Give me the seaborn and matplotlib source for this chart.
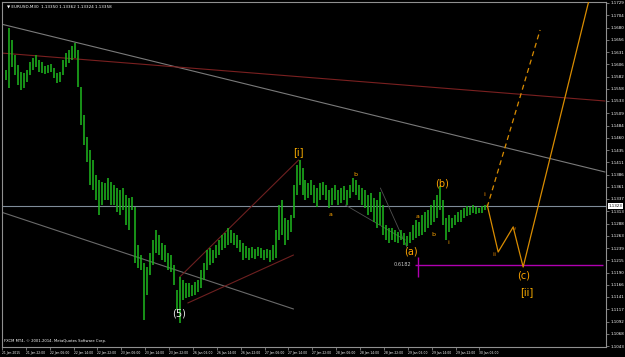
import numpy as np
import pandas as pd
import matplotlib
matplotlib.use("Agg")
import matplotlib.pyplot as plt
import matplotlib.transforms as mtransforms
import seaborn as sns

# ---------------- data (EURUSD, 2-hour bars) ----------------
high = [1.1595, 1.1679, 1.1655, 1.1625, 1.1605, 1.1591, 1.1589, 1.1595, 1.1611, 1.1619,
        1.1625, 1.1615, 1.1611, 1.1603, 1.1605, 1.1607, 1.1599, 1.1589, 1.1591, 1.1615,
        1.1629, 1.1635, 1.1643, 1.1649, 1.1635, 1.1561, 1.1505, 1.1461, 1.1435, 1.1415,
        1.1385, 1.1375, 1.1371, 1.1369, 1.1379, 1.1371, 1.1365, 1.1359, 1.1355, 1.1359,
        1.1345, 1.1339, 1.1341, 1.1321, 1.1245, 1.1225, 1.1209, 1.1201, 1.1229, 1.1255,
        1.1275, 1.1265, 1.1249, 1.1245, 1.1229, 1.1225, 1.1205, 1.1155, 1.1181, 1.1175,
        1.1169, 1.1169, 1.1165, 1.1171, 1.1175, 1.1195, 1.1209, 1.1235, 1.1239, 1.1235,
        1.1245, 1.1255, 1.1265, 1.1269, 1.1279, 1.1275, 1.1269, 1.1265, 1.1255, 1.1249,
        1.1243, 1.1239, 1.1241, 1.1237, 1.1241, 1.1239, 1.1235, 1.1237, 1.1235, 1.1245,
        1.1275, 1.1325, 1.1335, 1.1299, 1.1295, 1.1305, 1.1365, 1.1405, 1.1415, 1.1399,
        1.1375, 1.1369, 1.1375, 1.1365, 1.1359, 1.1369, 1.1371, 1.1365, 1.1355, 1.1359,
        1.1365, 1.1355, 1.1359, 1.1363, 1.1355, 1.1365, 1.1379, 1.1375, 1.1365, 1.1359,
        1.1355, 1.1345, 1.1349, 1.1339, 1.1335, 1.1351, 1.1325, 1.1285, 1.1279, 1.1279,
        1.1275, 1.1271, 1.1275, 1.1269, 1.1263, 1.1271, 1.1285, 1.1295, 1.1291, 1.1305,
        1.1311, 1.1315, 1.1325, 1.1335, 1.1345, 1.1363, 1.1335, 1.1299, 1.1305, 1.1299,
        1.1305, 1.1311, 1.1315, 1.1319, 1.1323, 1.1321, 1.1325, 1.1321, 1.1319, 1.1323,
        1.1325]
low = [1.1575, 1.1559, 1.1601, 1.1585, 1.1565, 1.1555, 1.1559, 1.1571, 1.1585, 1.1595,
       1.1601, 1.1591, 1.1589, 1.1587, 1.1589, 1.1591, 1.1579, 1.1569, 1.1571, 1.1585,
       1.1601, 1.1609, 1.1615, 1.1619, 1.1561, 1.1485, 1.1445, 1.1411, 1.1365, 1.1355,
       1.1335, 1.1305, 1.1325, 1.1335, 1.1335, 1.1325, 1.1325, 1.1311, 1.1305, 1.1315,
       1.1285, 1.1275, 1.1315, 1.1209, 1.1199, 1.1195, 1.1095, 1.1145, 1.1185, 1.1205,
       1.1229, 1.1225, 1.1215, 1.1211, 1.1195, 1.1191, 1.1165, 1.1115, 1.1089, 1.1135,
       1.1139, 1.1141, 1.1143, 1.1145, 1.1151, 1.1159, 1.1175, 1.1195, 1.1205, 1.1209,
       1.1219, 1.1225, 1.1235, 1.1239, 1.1245, 1.1249, 1.1245, 1.1239, 1.1231, 1.1215,
       1.1219, 1.1215, 1.1219, 1.1217, 1.1223, 1.1219, 1.1215, 1.1219, 1.1211, 1.1215,
       1.1219, 1.1255, 1.1265, 1.1245, 1.1255, 1.1271, 1.1299, 1.1345, 1.1365, 1.1345,
       1.1335, 1.1339, 1.1345, 1.1329, 1.1321, 1.1335, 1.1345, 1.1335, 1.1319, 1.1325,
       1.1335, 1.1325, 1.1329, 1.1335, 1.1325, 1.1339, 1.1351, 1.1345, 1.1335, 1.1325,
       1.1319, 1.1305, 1.1311, 1.1291, 1.1279, 1.1285, 1.1265, 1.1255, 1.1249, 1.1255,
       1.1251, 1.1249, 1.1255, 1.1245, 1.1243, 1.1249, 1.1255, 1.1259, 1.1263, 1.1265,
       1.1271, 1.1279, 1.1285, 1.1291, 1.1299, 1.1315, 1.1285, 1.1255, 1.1271, 1.1279,
       1.1285, 1.1291, 1.1291, 1.1299, 1.1303, 1.1305, 1.1309, 1.1307, 1.1309, 1.1309,
       1.1315]
last_price = 1.1323

time_labels = ["21 Jan 2015", "21 Jan 22:00", "22 Jan 06:00", "22 Jan 14:00", "22 Jan 22:00",
               "23 Jan 06:00", "23 Jan 14:00", "23 Jan 22:00", "26 Jan 06:00", "26 Jan 14:00",
               "26 Jan 22:00", "27 Jan 06:00", "27 Jan 14:00", "27 Jan 22:00", "28 Jan 06:00",
               "28 Jan 14:00", "28 Jan 22:00", "29 Jan 06:00", "29 Jan 14:00", "29 Jan 22:00",
               "30 Jan 06:00"]

# trend lines: (bar index, price) pairs
line_gray_top_x = [-1.67, 200.0];  line_gray_top_y = [1.1687, 1.1391]
line_red_top_x = [-1.67, 200.0];   line_red_top_y = [1.1629, 1.1533]
line_gray_low_x = [-1.67, 96.0];   line_gray_low_y = [1.1311, 1.1117]
chan_up_x = [58.0, 97.7];          chan_up_y = [1.1181, 1.1415]
chan_lo_x = [60.7, 96.0];          chan_lo_y = [1.1129, 1.1225]
chan2a_x = [125.0, 134.0];         chan2a_y = [1.1359, 1.1239]
chan2b_x = [113.3, 133.3];         chan2b_y = [1.1325, 1.1255]

# Elliott projections
proj_dash_x = [160.67, 178.33];    proj_dash_y = [1.1321, 1.1675]
proj_x = [160.67, 164.33, 169.33, 172.67, 194.67]
proj_y = [1.1325, 1.1231, 1.1281, 1.1201, 1.1735]

fib_level = 1.1205
fib_label = "0.6182"
fib_start = 136.7
fib_end = 199.3
fib_mark_x = 137.7
fib_mark_y = [1.1221, 1.1181]

wave_text = ["[i]", "(5)", "a", "b", "(a)", "a", "b", "i", "(b)", "ii", "iii", "iv", "(c)", "[ii]"]
wave_x = [97.67, 57.67, 108.33, 116.67, 135.33, 137.33, 142.67, 147.67, 145.67, 160.0, 163.0, 169.67, 172.67, 174.0]
wave_y = [1.1431, 1.1109, 1.1307, 1.1385, 1.1233, 1.1301, 1.1265, 1.1249, 1.1367, 1.1345, 1.1225, 1.1279, 1.1183, 1.1151]
wave_size = [7, 7, 4.5, 4.5, 7, 4.5, 4.5, 4.5, 7, 3.5, 3.5, 3.5, 7, 7]
wave_color = ["#FFB000", "#E8E8E8", "#FFA500", "#FFA500", "#FFA500", "#FFA500", "#FFA500",
              "#FFA500", "#FFA500", "#C07000", "#C07000", "#C07000", "#FFA500", "#FFB000"]

# ---------------- figure ----------------
sns.set_theme(style="dark", rc={"axes.facecolor": "black", "figure.facecolor": "black"})
plt.rcParams["font.family"] = ["DejaVu Sans"]

fig = plt.figure(figsize=(6.25, 3.57), dpi=100)
ax = fig.add_axes([2 / 625, 10 / 357, 604 / 625, 345 / 357])
ax.set_facecolor("black")

idx = np.arange(len(high))
df = pd.DataFrame({"bar": idx, "high": high, "low": low})
ax.vlines(df["bar"], df["low"], df["high"], color="#1DB31D", linewidth=1.15, zorder=3)

def seg(x, y, color, lw=0.8, ls="-", z=2):
    sns.lineplot(x=x, y=y, ax=ax, color=color, linewidth=lw, linestyle=ls,
                 sort=False, estimator=None, zorder=z, legend=False)

seg(line_gray_top_x, line_gray_top_y, "#7a7a7a")
seg(line_red_top_x, line_red_top_y, "#7a2020")
seg(line_gray_low_x, line_gray_low_y, "#6a6a6a")
seg(chan_up_x, chan_up_y, "#6e2020")
seg(chan_lo_x, chan_lo_y, "#6e2020")
seg(chan2a_x, chan2a_y, "#505050", lw=0.6)
seg(chan2b_x, chan2b_y, "#505050", lw=0.6)

# current price line
ax.axhline(last_price, color="#7f8c99", linewidth=0.8, zorder=1)

# fib level
ax.hlines(fib_level, fib_start, fib_end, color="#B000B0", linewidth=1.0, zorder=4)
ax.vlines(fib_mark_x, fib_mark_y[1], fib_mark_y[0], color="#B000B0", linewidth=1.0, zorder=4)
ax.text(fib_start - 1.3, fib_level, fib_label, color="#C8C8C8", fontsize=3.6,
        ha="right", va="center", zorder=5)

# projections
seg(proj_dash_x, proj_dash_y, "#D98C00", lw=0.9, ls=(0, (4, 3)), z=5)
seg(proj_x, proj_y, "#D98C00", lw=0.9, z=5)

for t, x, y, s, c in zip(wave_text, wave_x, wave_y, wave_size, wave_color):
    ax.text(x, y, t, color=c, fontsize=s, ha="center", va="center", zorder=6)

# axes styling
ax.set_xlim(-1.0, 200.33)
ax.set_ylim(1.1041, 1.1731)
ax.yaxis.tick_right()
yt = 1.1729 - 0.00245 * np.arange(29)
ax.set_yticks(yt)
ax.set_yticklabels([f"{v:.4f}" for v in yt])
xt = -1.33 + 7.97 * np.arange(len(time_labels))
ax.set_xticks(xt)
ax.set_xticklabels(time_labels, ha="left")
ax.tick_params(axis="both", colors="#A0A0A0", labelcolor="white",
               length=2, width=0.5, pad=1.0, direction="out")
ax.tick_params(axis="y", labelsize=2.9, right=True, pad=1.2)
ax.tick_params(axis="x", labelsize=2.2, bottom=True, pad=0.8)
ax.grid(False)
for sp in ax.spines.values():
    sp.set_color("#909090")
    sp.set_linewidth(0.8)

trans = mtransforms.blended_transform_factory(ax.transAxes, ax.transData)
ax.text(1.004, last_price, f"{last_price:.4f}", transform=trans, fontsize=2.9,
        color="black", va="center", ha="left", zorder=10,
        bbox=dict(boxstyle="square,pad=0.15", facecolor="white", edgecolor="none"))

ax.text(0.008, 0.992, "\u25BC EURUSD,M30  1.13350 1.13362 1.13324 1.13358",
        transform=ax.transAxes, color="white", fontsize=3.0, ha="left", va="top")
ax.text(0.003, 0.012, "FXCM MT4, \u00A9 2001-2014, MetaQuotes Software Corp.",
        transform=ax.transAxes, color="white", fontsize=2.7, ha="left", va="bottom")

fig.savefig("out.png", dpi=100, facecolor="black")
